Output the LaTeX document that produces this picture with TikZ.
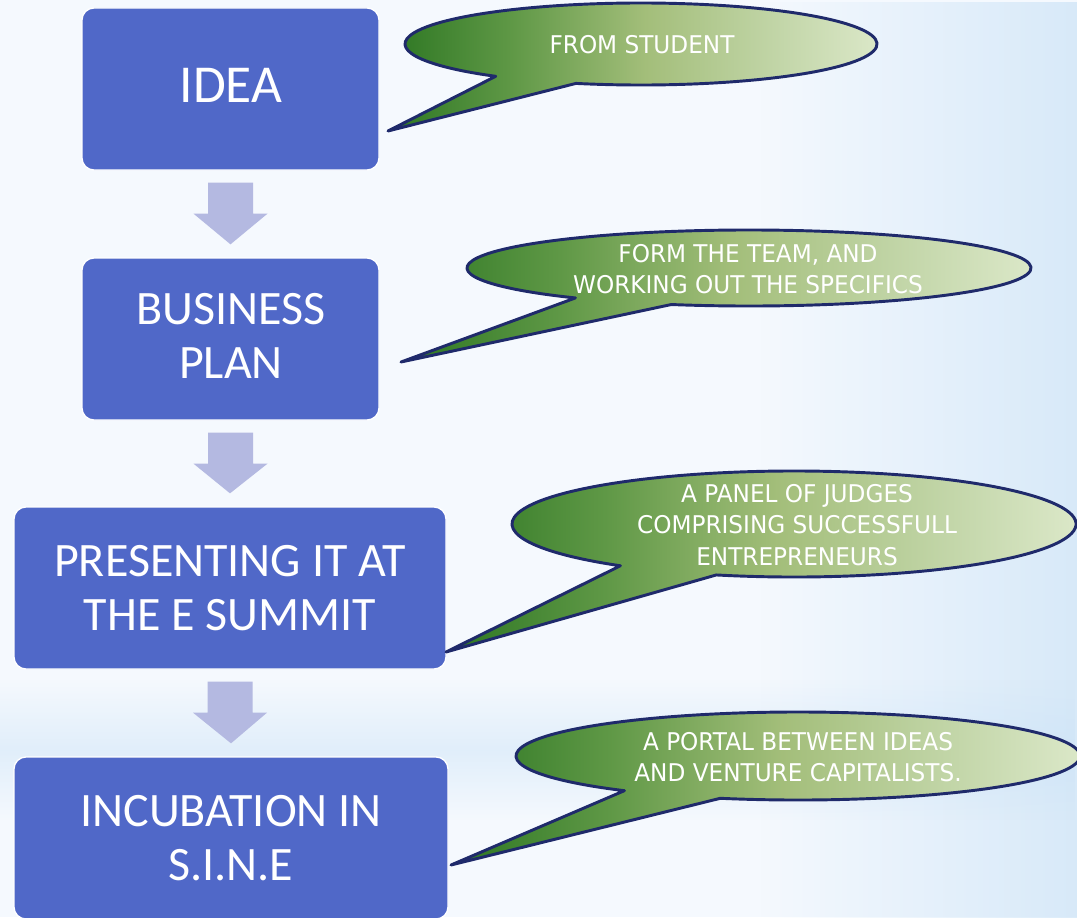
\documentclass[tikz,border=0pt]{standalone}
\usepackage{fontspec}
\setmainfont{Carlito}
\newfontfamily\tahfont[FakeStretch=0.95]{DejaVu Sans}
\usetikzlibrary{calc,fadings}
\definecolor{boxblue}{RGB}{80,104,200}
\definecolor{arrowlav}{RGB}{180,185,225}
\definecolor{navy}{RGB}{31,42,107}
\definecolor{gdark}{RGB}{44,118,34}
\definecolor{gA}{RGB}{95,152,70}
\definecolor{gmid}{RGB}{163,190,122}
\definecolor{gB}{RGB}{192,212,165}
\definecolor{glight}{RGB}{225,236,208}
\definecolor{bgbase}{RGB}{245,249,254}
\definecolor{bgblue}{RGB}{200,225,246}
\pgfdeclarehorizontalshading{calloutshade}{100bp}{color(0bp)=(gdark); color(25bp)=(gdark); color(37bp)=(gA); color(50bp)=(gmid); color(62bp)=(gB); color(75bp)=(glight); color(100bp)=(glight)}
\tikzfading[name=fadeinright, left color=transparent!100, right color=transparent!0]
\tikzfading[name=midband, top color=transparent!100, bottom color=transparent!100, middle color=transparent!10]
\tikzset{
  box/.style={fill=boxblue, draw=white, line width=1pt, rounded corners=9pt, text=white, align=center, inner sep=0pt,
    font=\fontsize{36}{40.5}\selectfont, minimum height=121.5pt},
  boxtext/.style={text=white, align=center, inner sep=0pt, font=\fontsize{36}{41}\selectfont},
  ctext/.style={text=white, align=center, inner sep=0pt, font=\tahfont\fontsize{18.3}{23.8}\selectfont},
  callout/.style={draw=navy, line width=2.2pt, line join=round, shade, shading=calloutshade},
  blockarrow/.style={fill=arrowlav}
}
\newcommand\calloutshape[5]{%
  \draw[callout] ($(#1,#2)+(128:#3 and #4)$) -- (#5) -- ($(#1,#2)+(106:#3 and #4)$)
    arc[start angle=106, end angle=-232, x radius=#3, y radius=#4] -- cycle;}
\newcommand\downarrowbetween[2]{%
  \fill[blockarrow] ($(#1.south)+(-22.5,12)$) -- ($(#1.south)+(22.5,12)$) -- ($(#1.south)+(22.5,43)$)
    -- ($(#1.south)+(37,43)$) -- ($(#2.north)+(0,-13)$) -- ($(#1.south)+(-37,43)$)
    -- ($(#1.south)+(-22.5,43)$) -- cycle;}
\begin{document}
\begin{tikzpicture}[x=0.75pt,y=-0.75pt]
\useasboundingbox (0,0) rectangle (1077,917);
% background
\fill[bgbase] (0,0) rectangle (1077,917);
\fill[bgblue, path fading=fadeinright, fill opacity=0.65] (760,0) rectangle (1077,917);
\fill[bgblue, path fading=midband, fill opacity=0.5] (0,680) rectangle (1077,820);
% boxes
\node[box, minimum width=222.75pt] (b1) at (230.5,89) {};
\node[boxtext, font=\fontsize{40}{46}\selectfont] (t1) at (231,85) {IDEA};
\node[box, minimum width=222.75pt] (b2) at (230.5,339) {};
\node[boxtext] (t2) at (231,336) {BUSINESS\\PLAN};
\node[box, minimum width=324pt] (b3) at (230,588) {PRESENTING IT AT\\THE E SUMMIT};
\node[box, minimum width=325.5pt] (b4) at (231,838) {INCUBATION IN\\S.I.N.E};
% arrows between boxes
\downarrowbetween{b1}{b2}
\downarrowbetween{b2}{b3}
\downarrowbetween{b3}{b4}
% callout tips
\coordinate (tip1) at (388,131);
\coordinate (tip2) at (401,362);
\coordinate (tip3) at (446,652);
\coordinate (tip4) at (451,865);
% callouts
\calloutshape{641}{44}{236}{41}{tip1}
\calloutshape{749}{268}{282}{38}{tip2}
\calloutshape{794}{524}{282}{53}{tip3}
\calloutshape{798}{756}{282}{44}{tip4}
\node[ctext] (c1) at (642,45) {FROM STUDENT};
\node[ctext] (c2) at (748,269) {FORM THE TEAM, AND\\WORKING OUT THE SPECIFICS};
\node[ctext] (c3) at (797,525) {A PANEL OF JUDGES\\COMPRISING SUCCESSFULL\\ENTREPRENEURS};
\node[ctext] (c4) at (798,757) {A PORTAL BETWEEN IDEAS\\AND VENTURE CAPITALISTS.};
\end{tikzpicture}
\end{document}
